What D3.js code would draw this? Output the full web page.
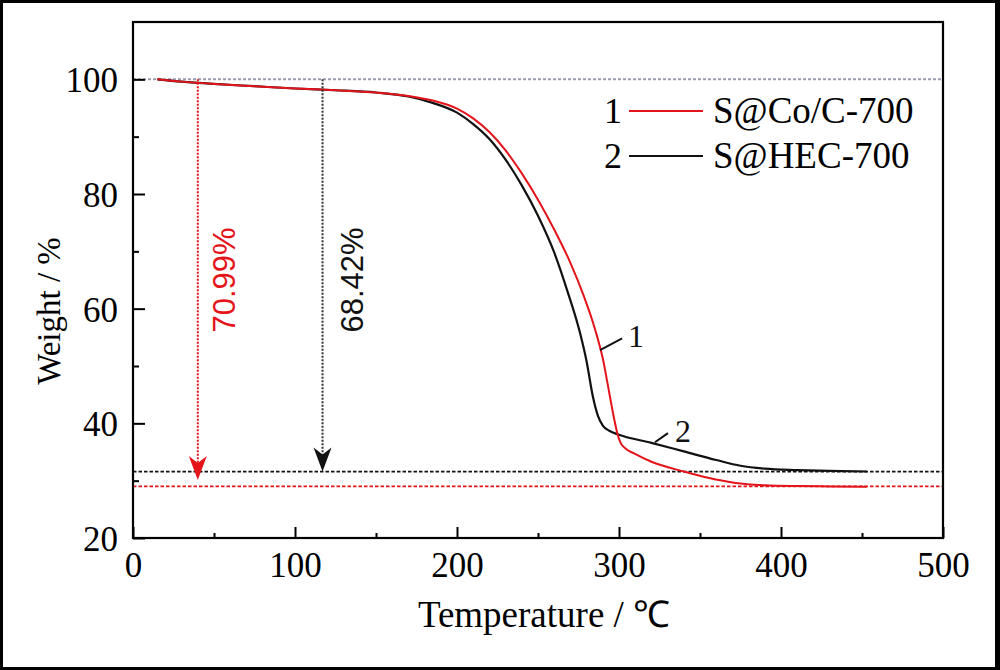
<!DOCTYPE html>
<html><head><meta charset="utf-8">
<script src="https://cdn.jsdelivr.net/npm/d3@7"></script>
<style>html,body{margin:0;padding:0;background:#fff;} svg{display:block;}</style>
</head><body>
<svg id="chart" width="1000" height="670"></svg>
<script>
// ---------- data ----------
const seriesNames = ["S@Co/C-700", "S@HEC-700"];
const seriesIds = ["1", "2"];
const temp1 = [15, 30, 50, 75, 100, 125, 150, 170, 185, 200, 210, 220, 230, 240, 250, 260, 270, 278, 285, 290, 294, 297, 299, 301, 304, 309, 320, 340, 355, 372, 390, 410, 430, 453];
const weight1 = [100, 99.6, 99.2, 98.8, 98.4, 98.1, 97.7, 97.1, 96.3, 94.9, 93.2, 90.8, 87.6, 83.6, 79.0, 73.8, 68.0, 62.4, 56.6, 51.3, 45.3, 40.8, 38.2, 36.6, 35.6, 34.8, 33.3, 31.6, 30.5, 29.6, 29.2, 29.05, 29.0, 28.95];
const temp2 = [15, 30, 50, 75, 100, 125, 150, 170, 185, 200, 210, 220, 230, 240, 250, 260, 268, 276, 280, 284, 287, 290, 294, 300, 320, 340, 360, 375, 390, 410, 430, 453];
const weight2 = [100, 99.6, 99.2, 98.8, 98.4, 98.1, 97.7, 97.0, 95.9, 94.2, 92.2, 89.6, 86.0, 81.5, 76.2, 69.8, 63.2, 55.7, 50.8, 44.5, 41.3, 39.6, 38.7, 38.0, 36.6, 35.1, 33.6, 32.6, 32.1, 31.85, 31.7, 31.6];
const xTicks = [0, 100, 200, 300, 400, 500];
const xMinorTicks = [50, 150, 250, 350, 450];
const yTicks = [20, 40, 60, 80, 100];
const yMinorTicks = [30, 50, 70, 90];
const startWeight = 100;
const residues = [29.01, 31.58];
const lossLabels = ["70.99%", "68.42%"];
const arrowTemps = [40, 117];
const arrowEnds = [30.1, 31.58];
const labelTemps = [63, 142];
const labelWeights = [65, 65];
// curve id annotations: [labelT, labelW, leaderT1, leaderW1, leaderT2, leaderW2]
const curveTags = [[305.6, 53.3, 288.3, 52.75, 301.9, 54.8], [334.6, 36.7, 322.2, 36.7, 330.2, 38.3]];

// ---------- styles ----------
const RED = "#e4141b", BLACK = "#111111";
const colors = [RED, BLACK];
const serif = "'Liberation Serif','Times New Roman',serif";
const sans = "'Liberation Sans',Arial,sans-serif";

const svg = d3.select("#chart");
const W = 1000, H = 670;
const m = {left: 133, right: 57, top: 22, bottom: 132};
const pw = W - m.left - m.right, ph = H - m.top - m.bottom;

// outer image border
svg.append("rect").attr("x", 1.5).attr("y", 1.5).attr("width", W - 3).attr("height", H - 3)
  .attr("fill", "#fff").attr("stroke", "#000").attr("stroke-width", 3);
svg.append("rect").attr("x", 995).attr("y", 0).attr("width", 5).attr("height", H).attr("fill", "#000");

const x = d3.scaleLinear().domain([0, 500]).range([0, pw]);
const y = d3.scaleLinear().domain([20, 110]).range([ph, 0]);

const g = svg.append("g").attr("transform", `translate(${m.left},${m.top})`);

// reference line at 100%
g.append("line").attr("x1", 0).attr("x2", pw).attr("y1", y(startWeight)).attr("y2", y(startWeight))
  .attr("stroke", "#9a9cb0").attr("stroke-width", 2).attr("stroke-dasharray", "3,2");

// residue lines
residues.forEach((r, i) => {
  g.append("line").attr("x1", 0).attr("x2", pw).attr("y1", y(r)).attr("y2", y(r))
    .attr("stroke", colors[i]).attr("stroke-width", 1.8).attr("stroke-dasharray", "3.5,2");
});

// curves
const line = d3.line().x(d => x(d[0])).y(d => y(d[1])).curve(d3.curveMonotoneX);
const data1 = temp1.map((t, i) => [t, weight1[i]]);
const data2 = temp2.map((t, i) => [t, weight2[i]]);
g.append("path").datum(data2).attr("d", line).attr("fill", "none").attr("stroke", BLACK).attr("stroke-width", 2.2);
g.append("path").datum(data1).attr("d", line).attr("fill", "none").attr("stroke", RED).attr("stroke-width", 2);

// arrows
arrowTemps.forEach((t, i) => {
  const ax = x(t), y0 = y(startWeight), y1 = y(arrowEnds[i]);
  g.append("line").attr("x1", ax).attr("x2", ax).attr("y1", y0).attr("y2", y1 - 15)
    .attr("stroke", i === 0 ? RED : "#333").attr("stroke-width", 2).attr("stroke-dasharray", "2,1.5");
  g.append("path")
    .attr("d", `M${ax},${y1} L${ax - 9},${y1 - 24} L${ax},${y1 - 17} L${ax + 9},${y1 - 24} Z`)
    .attr("fill", colors[i]);
  g.append("text").attr("transform", `translate(${x(labelTemps[i])},${y(labelWeights[i])}) rotate(-90)`)
    .attr("text-anchor", "middle").attr("font-family", sans).attr("font-size", 31)
    .attr("fill", colors[i]).text(lossLabels[i]);
});

// curve tags
curveTags.forEach((c, i) => {
  g.append("line").attr("x1", x(c[2])).attr("y1", y(c[3])).attr("x2", x(c[4])).attr("y2", y(c[5]))
    .attr("stroke", BLACK).attr("stroke-width", 2);
  g.append("text").attr("x", x(c[0])).attr("y", y(c[1])).attr("font-family", serif)
    .attr("font-size", 32).attr("fill", BLACK).text(seriesIds[i]);
});

// axes
const xAxis = g.append("g").attr("transform", `translate(0,${ph})`)
  .call(d3.axisBottom(x).tickValues(xTicks).tickSizeInner(-11).tickSizeOuter(0).tickPadding(14).tickFormat(d3.format("d")));
const xMinor = g.append("g").attr("transform", `translate(0,${ph})`)
  .call(d3.axisBottom(x).tickValues(xMinorTicks).tickSizeInner(-5).tickSizeOuter(0).tickFormat(""));
const yAxis = g.append("g")
  .call(d3.axisLeft(y).tickValues(yTicks).tickSizeInner(-12).tickSizeOuter(0).tickPadding(15).tickFormat(d3.format("d")));
const yMinor = g.append("g")
  .call(d3.axisLeft(y).tickValues(yMinorTicks).tickSizeInner(-6).tickSizeOuter(0).tickFormat(""));
[xAxis, xMinor, yAxis, yMinor].forEach(a => {
  a.select(".domain").remove();
  a.selectAll("line").attr("stroke", "#000").attr("stroke-width", 2);
  a.selectAll("text").attr("font-family", serif).attr("font-size", 35).attr("fill", "#000");
});
yAxis.selectAll("text").attr("dy", "0.36em");

// plot frame
g.append("rect").attr("x", 0).attr("y", 0).attr("width", pw).attr("height", ph)
  .attr("fill", "none").attr("stroke", "#000").attr("stroke-width", 2.2);

// axis titles
svg.append("text").attr("x", m.left + pw / 2 + 6).attr("y", 627).attr("text-anchor", "middle")
  .attr("font-family", serif).attr("font-size", 37).attr("fill", "#000").text("Temperature / ℃");
svg.append("text").attr("transform", `translate(60,311) rotate(-90)`).attr("text-anchor", "middle")
  .attr("font-family", serif).attr("font-size", 33).attr("fill", "#000").text("Weight / %");

// legend
const legend = svg.append("g");
seriesNames.forEach((name, i) => {
  const ly = 111 + i * 45;
  legend.append("text").attr("x", 622).attr("y", ly + 12).attr("text-anchor", "end")
    .attr("font-family", serif).attr("font-size", 36).attr("fill", "#000").text(seriesIds[i]);
  legend.append("line").attr("x1", 629).attr("x2", 703).attr("y1", ly).attr("y2", ly)
    .attr("stroke", colors[i]).attr("stroke-width", 2);
  legend.append("text").attr("x", 713).attr("y", ly + 12)
    .attr("font-family", serif).attr("font-size", 37).attr("fill", "#000").text(name);
});
</script>
</body></html>
